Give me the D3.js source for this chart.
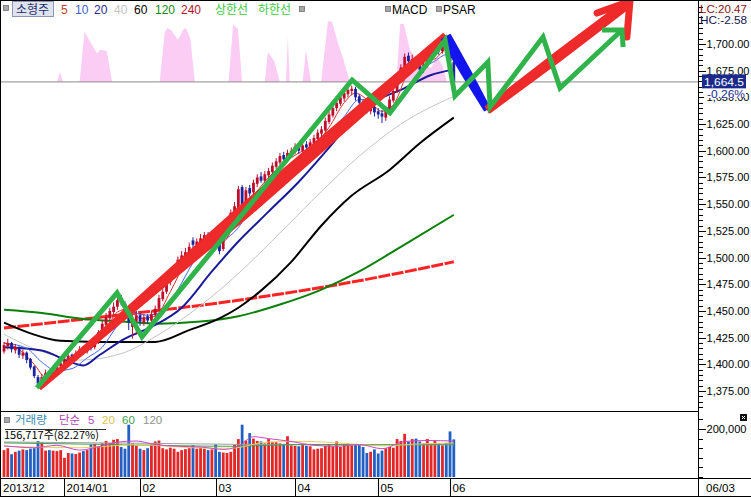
<!DOCTYPE html>
<html>
<head>
<meta charset="utf-8">
<script src="https://cdn.jsdelivr.net/npm/d3@7"></script>
<style>
  body { margin: 0; background: #fff; }
  svg { display: block; font-family: "Liberation Sans", Arial, sans-serif; }
  .kr { font-family: "Noto Sans CJK KR", sans-serif; }
</style>
</head>
<body>
<div id="chart"></div>
<script>
// daily candles, 2013/12 .. 2014/06/03 (index 0..119)
const closes = [
  1418,1420,1414,1416,1409,1411,1404,1397,1389,1382,1388,1392,1387,1395,1398,1401,
  1405,1408,1404,1410,1414,1412,1418,1416,1422,1430,1438,1444,1450,1454,1460,1458,1448,1440,1442,1446,
  1440,1444,1441,1447,1452,1462,1468,1478,1482,1490,1498,1502,1505,1510,1512,1515,1518,1521,1518,1521,
  1512,1506,1520,1534,1542,1548,1564,1548,1563,1560,1570,1575,1572,1578,1581,1586,1590,1595,1592,1598,1600,
  1604,1600,1605,1603,1608,1612,1617,1620,1628,1634,1640,1645,1650,1654,1657,1658,1650,1645,1642,1638,1641,1636,
  1634,1632,1639,1648,1656,1668,1678,1688,1684,1686,1680,1676,1681,1686,1692,1696,1693,1698,1695,
  1684,1664.5
];
const opens = [
  1412,1417,1420,1413,1416,1408,1411,1405,1398,1388,1383,1387,1393,1388,1394,1398,
  1400,1404,1409,1405,1410,1415,1412,1419,1416,1421,1430,1437,1443,1449,1454,1462,1457,1448,1435,1440,
  1446,1439,1445,1441,1446,1452,1461,1468,1477,1482,1489,1497,1502,1504,1516,1511,1514,1517,1522,1517,
  1520,1513,1508,1521,1534,1541,1546,1566,1550,1565,1561,1569,1576,1572,1577,1580,1585,1589,1596,1592,1597,
  1599,1605,1600,1606,1603,1607,1611,1616,1619,1627,1633,1640,1644,1649,1653,1656,1658,1651,1646,1643,1637,1641,
  1637,1635,1631,1639,1647,1656,1667,1678,1689,1683,1686,1680,1676,1680,1685,1691,1697,1693,1699,
  1694,1683
];
const highs = [
  1421,1424,1421,1419,1417,1414,1412,1406,1399,1390,1391,1395,1394,1397,1401,1404,
  1408,1411,1410,1413,1417,1417,1421,1421,1425,1432,1441,1448,1453,1458,1463,1465,1459,1449,1446,1450,
  1448,1447,1447,1450,1455,1465,1471,1482,1486,1493,1501,1506,1509,1514,1519,1518,1522,1524,1524,1524,
  1522,1514,1523,1537,1545,1552,1567,1568,1566,1568,1573,1578,1580,1581,1584,1589,1593,1598,1599,1601,1603,
  1607,1607,1608,1609,1611,1615,1620,1623,1631,1637,1643,1648,1653,1657,1660,1661,1660,1653,1648,1645,1644,1643,
  1640,1638,1642,1651,1659,1671,1681,1691,1692,1690,1688,1683,1684,1689,1695,1699,1700,1701,1703,
  1696,1686
];
const lows = [
  1410,1414,1411,1410,1406,1405,1401,1395,1387,1378,1380,1385,1384,1386,1392,1396,
  1398,1402,1401,1403,1408,1409,1410,1413,1414,1419,1428,1435,1441,1446,1451,1455,1445,1432,1424,1428,
  1436,1436,1438,1439,1444,1450,1459,1466,1474,1480,1487,1495,1499,1502,1507,1508,1512,1514,1515,1514,
  1509,1503,1506,1519,1531,1538,1544,1545,1547,1557,1559,1566,1570,1570,1574,1578,1583,1587,1589,1590,1594,
  1597,1597,1598,1600,1601,1605,1609,1613,1617,1625,1631,1637,1642,1646,1650,1652,1647,1642,1638,1635,1634,1632,
  1630,1626,1628,1637,1645,1654,1665,1676,1681,1680,1677,1673,1673,1678,1683,1689,1690,1691,1692,
  1681,1660
];
// volume in thousands of shares
const volumes = [
  112,120,95,105,110,115,112,118,120,150,145,110,112,110,108,112,
  80,100,98,96,102,108,112,135,138,128,140,150,142,155,158,125,118,218,140,130,
  118,112,120,135,148,152,120,115,122,118,105,112,116,120,132,118,122,118,112,115,
  136,105,102,100,105,135,158,218,152,183,160,150,148,140,158,145,145,140,138,170,132,
  130,128,135,130,128,115,118,120,130,135,128,148,125,135,140,132,138,134,125,100,105,115,
  98,110,120,125,122,158,150,180,148,158,160,148,140,158,135,150,140,132,142,
  190,156.717
];

// moving averages: [day index, value]
const ma5 = [[0,1420],[4,1414],[8,1400],[11,1388],[14,1390],[18,1403],[22,1412],[26,1425],[30,1449],[33,1452],[36,1443],[40,1445],[44,1468],[48,1495],[52,1511],[56,1518],[58,1515],[62,1540],[66,1558],[70,1575],[74,1588],[78,1598],[82,1605],[86,1622],[90,1645],[93,1654],[97,1645],[100,1637],[103,1643],[107,1674],[110,1683],[114,1686],[117,1695],[119,1683]];
const ma10 = [[0,1420],[6,1415],[10,1402],[14,1394],[18,1396],[22,1406],[26,1416],[30,1436],[34,1448],[38,1446],[42,1450],[46,1470],[50,1495],[54,1512],[58,1516],[62,1528],[66,1550],[70,1565],[74,1582],[78,1594],[82,1602],[86,1615],[90,1632],[94,1648],[98,1646],[102,1640],[106,1655],[110,1675],[114,1684],[117,1690],[119,1686]];
const ma20 = [[0,1416],[10,1413],[17,1403],[21,1399],[25,1408],[32,1424],[39,1435],[47,1453],[55,1487],[62,1515],[70,1543],[78,1571],[86,1603],[93,1632],[99,1648],[105,1657],[113,1671],[119,1676]];
const ma40 = [[0,1428],[10,1412],[20,1404],[31,1410],[41,1428],[52,1455],[62,1485],[73,1523],[84,1562],[94,1595],[105,1625],[119,1651]];
const ma60 = [[0,1439],[7,1429],[15,1422],[25,1421],[40,1421],[49,1432],[57,1443],[62,1453],[68,1469],[76,1496],[84,1530],[92,1558],[102,1582],[110,1607],[119,1631]];
const ma120 = [[0,1451],[10,1448],[20,1443],[31,1440],[41,1438],[52,1440],[62,1445],[73,1456],[84,1470],[94,1487],[105,1510],[119,1540]];
const ma240 = [[0,1434],[30,1446],[62,1460],[92,1477],[119,1496]];

const vma5 = [[0,130],[8,122],[14,132],[20,112],[26,130],[30,145],[35,150],[40,135],[46,128],[52,125],[58,115],[62,128],[66,168],[70,160],[76,148],[82,132],[88,128],[94,135],[100,118],[106,148],[112,152],[119,150]];
const vma20 = [[0,128],[20,122],[35,135],[50,122],[60,120],[70,146],[80,148],[90,140],[100,130],[110,138],[119,142]];
const vma60 = [[0,142],[30,135],[60,128],[80,136],[100,134],[119,137]];
const vma120 = [[0,146],[40,140],[80,134],[119,134]];

// pink MACD overlay (relative height above the current-price line)
const macd = [
  [14.0,0],[14.8,0.16],[15.6,0],
  [20.0,0],[21.3,0.81],[22.5,0.68],[24.6,0.46],[25.4,0.52],[27.2,0.5],[28.6,0],
  [41.2,0],[42.5,0.8],[43.2,0.87],[44.2,0.84],[46.0,0.68],[47.5,0.85],[48.1,0.87],[49.3,0.7],[50.5,0],
  [59.4,0],[60.6,0.92],[61.9,0.86],[63.0,0],
  [69.0,0],[69.8,0.48],[71.5,0.34],[73.0,0],
  [74.6,0],[75.1,0.73],[75.6,0],
  [79.0,0],[79.9,0.52],[81.2,0],
  [83.9,0],[85.7,0.98],[86.8,0.97],[88.4,0.62],[89.8,0.36],[91.5,0],
  [103.8,0],[104.8,0.94],[105.8,0.93],[107.4,0.52],[109.2,0.36],[111.2,0.28],[113.0,0.22],[114.5,0.42],[116.0,0.26],[117.2,0]
];

// hand-drawn annotations: [day index, price]
const trendUp = [[9.5,1378],[116.9,1706.5]];
const trendDown = [[116.9,1706.5],[127.8,1639]];
const trendNext = [[128,1638.5],[165.1,1738]];
const trendHead = [[156.9,1729],[165.6,1740],[164.8,1706.5]];
const zigzag = [[8.7,1378],[29.9,1467],[36.5,1425.7],[92.1,1666.3],[102.1,1635.4],[116.7,1703.7],[119.3,1651.3],[128,1683.1],[128.6,1641],[142.6,1706.6],[147.1,1658.8],[163.5,1713.1]];
const zigHead = [[158.2,1713.1],[163.5,1713.1],[163.8,1697.2]];

const lastPrice = 1664.5;
const priceLabels = [1375,1400,1425,1450,1475,1500,1525,1550,1575,1600,1625,1650,1675,1700];
const monthStarts = [16,36,56,77,99,118];
const monthLabels = ["2014/01","02","03","04","05","06"];

const W = 751, H = 497, axisX = 698.5;

const svg = d3.select("#chart").append("svg").attr("width", W).attr("height", H);
svg.append("rect").attr("width", W).attr("height", H).attr("fill", "#fff");

const x = d3.scaleLinear().domain([0, 119]).range([4, 453.8]);
const y = d3.scaleLinear().domain([1375, 1700]).range([391, 44]);
const vy = d3.scaleLinear().domain([0, 200]).range([477, 429]);
const my = d3.scaleLinear().domain([0, 1]).range([y(lastPrice), 20]);

const defs = svg.append("defs");
defs.append("clipPath").attr("id", "clipMain").append("rect")
  .attr("x", 1).attr("y", 1).attr("width", axisX - 1).attr("height", 410);
defs.append("clipPath").attr("id", "clipVol").append("rect")
  .attr("x", 1).attr("y", 412).attr("width", axisX - 1).attr("height", 66);

const main = svg.append("g").attr("clip-path", "url(#clipMain)");

// MACD pink area
main.append("path")
  .datum(macd)
  .attr("fill", "#fbcdf5")
  .attr("d", d3.area().x(d => x(d[0])).y0(my(0)).y1(d => my(d[1])));

// current price line
main.append("line")
  .attr("x1", 0).attr("x2", axisX)
  .attr("y1", y(lastPrice)).attr("y2", y(lastPrice))
  .attr("stroke", "#8a8a8a").attr("stroke-width", 1);

// moving averages
const maLine = d3.line().x(d => x(d[0])).y(d => y(d[1])).curve(d3.curveMonotoneX);
const maStyles = [
  [ma240, "#ff2222", 3, "12,1.5"],
  [ma120, "#0a800a", 2, null],
  [ma60, "#000000", 2, null],
  [ma40, "#c4c4c4", 1, null],
  [ma20, "#1a1a9c", 2, null],
  [ma10, "#4466ee", 1, null],
  [ma5, "#d83030", 1, null]
];
maStyles.forEach(([data, color, w, dash]) => {
  main.append("path")
    .datum(data)
    .attr("fill", "none")
    .attr("stroke", color)
    .attr("stroke-width", w)
    .attr("stroke-dasharray", dash)
    .attr("d", maLine);
});

// candles
const candles = closes.map((c, i) => ({ i, o: opens[i], h: highs[i], l: lows[i], c }));
const upColor = "#c00d2a", downColor = "#1a22a0";
const cColor = d => d.c >= d.o ? upColor : downColor;
main.append("g").selectAll("line")
  .data(candles)
  .join("line")
  .attr("x1", d => x(d.i)).attr("x2", d => x(d.i))
  .attr("y1", d => y(d.h)).attr("y2", d => y(d.l))
  .attr("stroke", cColor).attr("stroke-width", 1);
main.append("g").selectAll("rect")
  .data(candles)
  .join("rect")
  .attr("x", d => x(d.i) - 1.4)
  .attr("width", 2.8)
  .attr("y", d => y(Math.max(d.o, d.c)))
  .attr("height", d => Math.max(1, Math.abs(y(d.o) - y(d.c))))
  .attr("fill", cColor);

// tapered brush stroke between two data points
function brush(a, b, ws) {
  const x0 = x(a[0]), y0 = y(a[1]), x1 = x(b[0]), y1 = y(b[1]);
  const dx = x1 - x0, dy = y1 - y0, len = Math.hypot(dx, dy);
  const nx = -dy / len, ny = dx / len;
  const ts = [0, 0.5, 1];
  const left = ts.map((t, k) => [x0 + dx * t + nx * ws[k] / 2, y0 + dy * t + ny * ws[k] / 2]);
  const right = ts.map((t, k) => [x0 + dx * t - nx * ws[k] / 2, y0 + dy * t - ny * ws[k] / 2]).reverse();
  return d3.line().curve(d3.curveLinearClosed)(left.concat(right));
}
const annLine = d3.line().x(d => x(d[0])).y(d => y(d[1]));

const ann = svg.append("g");
ann.append("path").attr("d", brush(trendUp[0], trendUp[1], [3, 13, 8]))
  .attr("fill", "#ee2a2a").attr("stroke", "#ee2a2a").attr("stroke-width", 2).attr("stroke-linejoin", "round");
ann.append("path").attr("d", brush(trendDown[0], trendDown[1], [10, 9, 6]))
  .attr("fill", "#1414ee").attr("stroke", "#1414ee").attr("stroke-width", 1.5).attr("stroke-linejoin", "round");
ann.append("path").attr("d", brush(trendNext[0], trendNext[1], [7, 9, 8]))
  .attr("fill", "#ee2a2a").attr("stroke", "#ee2a2a").attr("stroke-width", 2).attr("stroke-linejoin", "round");
ann.append("path").datum(trendHead)
  .attr("d", annLine)
  .attr("fill", "none").attr("stroke", "#ee2a2a").attr("stroke-width", 7)
  .attr("stroke-linejoin", "round").attr("stroke-linecap", "round");
ann.append("path").datum(zigzag)
  .attr("d", annLine)
  .attr("fill", "none").attr("stroke", "#2fb34a").attr("stroke-width", 5)
  .attr("stroke-linejoin", "miter").attr("stroke-miterlimit", 3);
ann.append("path").datum(zigHead)
  .attr("d", annLine)
  .attr("fill", "none").attr("stroke", "#2fb34a").attr("stroke-width", 5)
  .attr("stroke-linejoin", "miter");

// ---- volume panel ----
const vol = svg.append("g").attr("clip-path", "url(#clipVol)");
const volColor = (d, i) => closes[i] >= opens[i] ? "#e32626" : "#2360c4";
vol.append("g").selectAll("rect")
  .data(volumes)
  .join("rect")
  .attr("x", (d, i) => x(i) - 1.4)
  .attr("width", 2.8)
  .attr("y", d => vy(d))
  .attr("height", d => vy(0) - vy(d))
  .attr("fill", volColor);

const vLine = d3.line().x(d => x(d[0])).y(d => vy(d[1])).curve(d3.curveMonotoneX);
[[vma120, "#a0a0a0"], [vma60, "#3fa04f"], [vma20, "#e6cf5a"], [vma5, "#c848c8"]].forEach(([data, color]) => {
  vol.append("path").datum(data)
    .attr("fill", "none").attr("stroke", color).attr("stroke-width", 1)
    .attr("d", vLine);
});

// ---- frame lines ----
const frame = svg.append("g").attr("stroke", "#000").attr("stroke-width", 1).attr("shape-rendering", "crispEdges");
frame.append("line").attr("x1", 0).attr("x2", W).attr("y1", 0.5).attr("y2", 0.5);
frame.append("line").attr("x1", 0.5).attr("x2", 0.5).attr("y1", 0).attr("y2", H);
frame.append("line").attr("x1", 0).attr("x2", axisX).attr("y1", 411.5).attr("y2", 411.5);
frame.append("line").attr("x1", 0).attr("x2", W).attr("y1", 478.5).attr("y2", 478.5);
frame.append("line").attr("x1", 0).attr("x2", W).attr("y1", 496.5).attr("y2", 496.5);
frame.append("line").attr("x1", axisX).attr("x2", axisX).attr("y1", 0).attr("y2", H);

// ---- price axis ----
const minorTicks = d3.range(1335, 1745, 5).filter(v => y(v) > 2 && y(v) < 410);
svg.append("g")
  .attr("transform", `translate(${axisX},0)`)
  .call(d3.axisRight(y).tickValues(minorTicks).tickSize(4).tickFormat(""))
  .call(g => g.select(".domain").remove())
  .attr("shape-rendering", "crispEdges");
const priceAxis = svg.append("g")
  .attr("transform", `translate(${axisX},0)`)
  .call(d3.axisRight(y).tickValues(priceLabels).tickSize(7).tickPadding(1).tickFormat(d3.format(",.2f")))
  .call(g => g.select(".domain").remove())
  .attr("shape-rendering", "crispEdges");
priceAxis.selectAll("text")
  .attr("font-family", "Liberation Sans, Arial, sans-serif")
  .attr("font-size", 11).attr("fill", "#000")
  .attr("textLength", 43).attr("lengthAdjust", "spacingAndGlyphs");

// LC / HC
svg.append("text").attr("x", 700).attr("y", 13).attr("font-size", 10.5).attr("fill", "#8c1414")
  .attr("textLength", 47).attr("lengthAdjust", "spacingAndGlyphs").text("LC:20.47");
svg.append("text").attr("x", 700).attr("y", 24).attr("font-size", 10.5).attr("fill", "#141450")
  .attr("textLength", 47).attr("lengthAdjust", "spacingAndGlyphs").text("HC:-2.58");

// current price box
svg.append("rect").attr("x", 702).attr("y", y(lastPrice) - 7.5).attr("width", 44).attr("height", 14).attr("fill", "#1a2a8c");
svg.append("text").attr("x", 704).attr("y", y(lastPrice) + 4).attr("font-size", 11.5).attr("fill", "#fff")
  .attr("textLength", 40).attr("lengthAdjust", "spacingAndGlyphs")
  .text(d3.format(",.1f")(lastPrice));
svg.append("rect").attr("x", 704).attr("y", y(lastPrice) + 7).attr("width", 42).attr("height", 9).attr("fill", "#fff");
svg.append("text").attr("x", 707).attr("y", y(lastPrice) + 16).attr("font-size", 11).attr("fill", "#1a2a8c")
  .attr("textLength", 38).attr("lengthAdjust", "spacingAndGlyphs").text("-0.26%");

// ---- volume axis ----
svg.append("g")
  .attr("transform", `translate(${axisX},0)`)
  .call(d3.axisRight(vy).tickValues([0, 40, 80, 120, 160, 240]).tickSize(4).tickFormat(""))
  .call(g => g.select(".domain").remove())
  .attr("shape-rendering", "crispEdges");
const volAxis = svg.append("g")
  .attr("transform", `translate(${axisX},0)`)
  .call(d3.axisRight(vy).tickValues([200]).tickSize(7).tickPadding(1).tickFormat(d => d3.format(",")(d * 1000)))
  .call(g => g.select(".domain").remove())
  .attr("shape-rendering", "crispEdges");
volAxis.selectAll("text").attr("font-family", "Liberation Sans, Arial, sans-serif").attr("font-size", 11).attr("fill", "#000")
  .attr("textLength", 40).attr("lengthAdjust", "spacingAndGlyphs");
svg.append("rect").attr("x", 740).attr("y", 414).attr("width", 7).attr("height", 7).attr("fill", "#111");
svg.append("path").attr("d", "M742,416L745,419M745,416L742,419").attr("stroke", "#fff").attr("stroke-width", 1);

// ---- date axis ----
const dates = svg.append("g").attr("font-size", 11.5);
dates.append("text").attr("x", 3).attr("y", 492).text("2013/12");
monthStarts.forEach((m, k) => {
  const sx = Math.round(x(m)) + 0.5;
  dates.append("line").attr("x1", sx).attr("x2", sx).attr("y1", 478).attr("y2", 496)
    .attr("stroke", "#000").attr("shape-rendering", "crispEdges");
  dates.append("text").attr("x", sx + 2).attr("y", 492).text(monthLabels[k]);
});
dates.append("text").attr("x", 706).attr("y", 492).text("06/03");

// ---- header legend ----
function marker(g, mx, my0) {
  g.append("rect").attr("x", mx).attr("y", my0).attr("width", 5).attr("height", 5)
    .attr("fill", "#a8a8a8").attr("stroke", "#707070").attr("stroke-width", 0.8);
}
const head = svg.append("g");
marker(head, 3.5, 5.5);
head.append("rect").attr("x", 12.5).attr("y", 1.5).attr("width", 41).attr("height", 15)
  .attr("fill", "#dfe3ee").attr("stroke", "#8a96b4");
head.append("text").attr("class", "kr").attr("x", 16).attr("y", 13.5).attr("font-size", 12).attr("fill", "#1c2c6c").text("소형주");
const maLegend = [["5", 61, "#c83c2c"], ["10", 75, "#3c64c8"], ["20", 94, "#28288c"], ["40", 114, "#c4c4c4"],
  ["60", 134, "#000"], ["120", 155, "#108c10"], ["240", 181, "#b4142c"]];
maLegend.forEach(([t, lx, c]) => {
  head.append("text").attr("x", lx).attr("y", 14).attr("font-size", 12).attr("fill", c).text(t);
});
head.append("text").attr("class", "kr").attr("x", 215).attr("y", 14).attr("font-size", 12).attr("fill", "#3cc83c").text("상한선");
head.append("text").attr("class", "kr").attr("x", 258).attr("y", 14).attr("font-size", 12).attr("fill", "#3cc83c").text("하한선");
marker(head, 299.5, 6.5);
marker(head, 385.5, 6.5);
head.append("text").attr("x", 392).attr("y", 14).attr("font-size", 12).attr("fill", "#000").text("MACD");
marker(head, 436.5, 6.5);
head.append("text").attr("x", 443).attr("y", 14).attr("font-size", 12).attr("fill", "#000").text("PSAR");

// ---- volume legend ----
const vhead = svg.append("g");
marker(vhead, 4.5, 417.5);
vhead.append("text").attr("class", "kr").attr("x", 15).attr("y", 424).attr("font-size", 11.5).attr("fill", "#3c8cb4").text("거래량");
vhead.append("text").attr("class", "kr").attr("x", 59).attr("y", 424).attr("font-size", 11.5).attr("fill", "#b446b4").text("단순");
[["5", 88, "#b446b4"], ["20", 102, "#dcc24a"], ["60", 122, "#3aa04c"], ["120", 143, "#909090"]].forEach(([t, lx, c]) => {
  vhead.append("text").attr("x", lx).attr("y", 424).attr("font-size", 11.5).attr("fill", c).text(t);
});
vhead.append("line").attr("x1", 5).attr("x2", 106).attr("y1", 429.5).attr("y2", 429.5).attr("stroke", "#333");
vhead.append("text").attr("class", "kr").attr("x", 4).attr("y", 439).attr("font-size", 11).attr("fill", "#000")
  .text(d3.format(",")(Math.round(volumes[volumes.length - 1] * 1000)) + "주(82.27%)");
</script>
</body>
</html>
